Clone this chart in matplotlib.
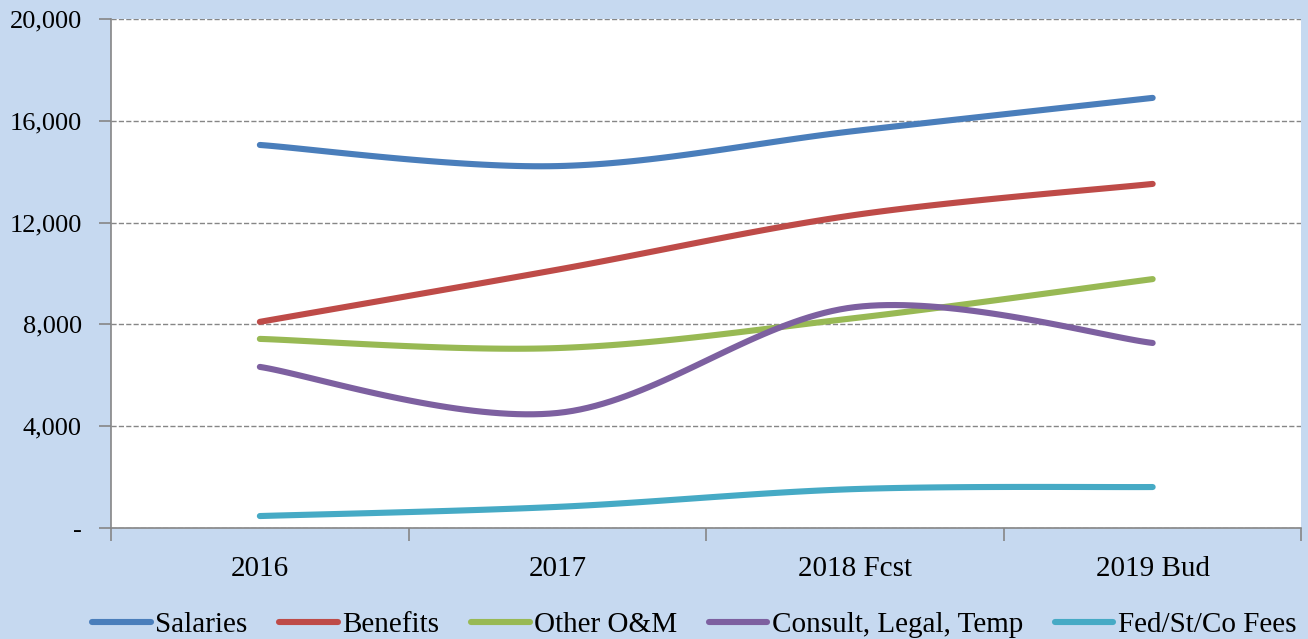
import matplotlib.pyplot as plt
import numpy as np
from matplotlib.ticker import FuncFormatter, MultipleLocator

categories = ['2016', '2017', '2018 Fcst', '2019 Bud']
salaries = [15050, 14220, 15600, 16900]
benefits = [8100, 10150, 12300, 13520]
other_om = [7430, 7070, 8250, 9780]
consult = [6330, 4520, 8680, 7270]
fees = [470, 830, 1530, 1610]

series = [('Salaries', salaries, '#4A7EBB'),
          ('Benefits', benefits, '#BE4B48'),
          ('Other O&M', other_om, '#98B954'),
          ('Consult, Legal, Temp', consult, '#7D60A0'),
          ('Fed/St/Co Fees', fees, '#46AAC5')]


def smooth(x, y, n=40):
    # excel-like smoothing: cubic bezier with catmull-rom control points
    x = np.asarray(x, float)
    y = np.asarray(y, float)
    px = np.concatenate([[x[0]], x, [x[-1]]])
    py = np.concatenate([[y[0]], y, [y[-1]]])
    xs, ys = [], []
    t = np.linspace(0, 1, n)
    for i in range(len(x) - 1):
        p0 = np.array([px[i + 1], py[i + 1]])
        p3 = np.array([px[i + 2], py[i + 2]])
        c1 = p0 + (np.array([px[i + 2], py[i + 2]]) - np.array([px[i], py[i]])) / 6
        c2 = p3 - (np.array([px[i + 3], py[i + 3]]) - np.array([px[i + 1], py[i + 1]])) / 6
        b = ((1 - t) ** 3)[:, None] * p0 + (3 * (1 - t) ** 2 * t)[:, None] * c1 \
            + (3 * (1 - t) * t ** 2)[:, None] * c2 + (t ** 3)[:, None] * p3
        xs.extend(b[:, 0])
        ys.extend(b[:, 1])
    return np.array(xs), np.array(ys)


plt.rcParams['font.family'] = ['Liberation Serif', 'DejaVu Serif']

fig = plt.figure(figsize=(13.08, 6.39), dpi=100)
fig.patch.set_facecolor('#C6D9F0')
ax = fig.add_axes([0.0849, 0.1737, 0.9101, 0.7966])
ax.set_facecolor('white')

xpos = np.arange(len(categories))
for name, vals, col in series:
    sx, sy = smooth(xpos, vals)
    ax.plot(sx, sy, color=col, lw=4.4, solid_capstyle='round', label=name)

ax.set_xlim(-0.5, 3.5)
ax.set_ylim(0, 20000)
ax.yaxis.set_major_locator(MultipleLocator(4000))
ax.yaxis.set_major_formatter(FuncFormatter(lambda v, p: '-' if v == 0 else f'{int(v):,}'))
ax.grid(axis='y', color='#868686', ls='--', lw=1)
ax.set_axisbelow(True)

ax.set_xticks(xpos)
ax.set_xticklabels(categories)
ax.set_xticks(np.arange(-0.5, 4, 1), minor=True)
ax.tick_params(axis='x', which='major', length=0, pad=20, labelsize=21)
ax.tick_params(axis='x', which='minor', length=9, color='#868686', width=1.2, direction='out')
ax.tick_params(axis='y', length=9, color='#868686', width=1.2, labelsize=19, pad=12)

for s in ['top', 'right']:
    ax.spines[s].set_visible(False)
for s in ['left', 'bottom']:
    ax.spines[s].set_color('#868686')
    ax.spines[s].set_linewidth(1.2)

leg = ax.legend(loc='upper center', bbox_to_anchor=(0.49, -0.113), ncol=5, frameon=False,
                fontsize=21, handlelength=2.0, handletextpad=0.15, columnspacing=1.1)

fig.savefig('out.png', dpi=100, facecolor=fig.get_facecolor())
